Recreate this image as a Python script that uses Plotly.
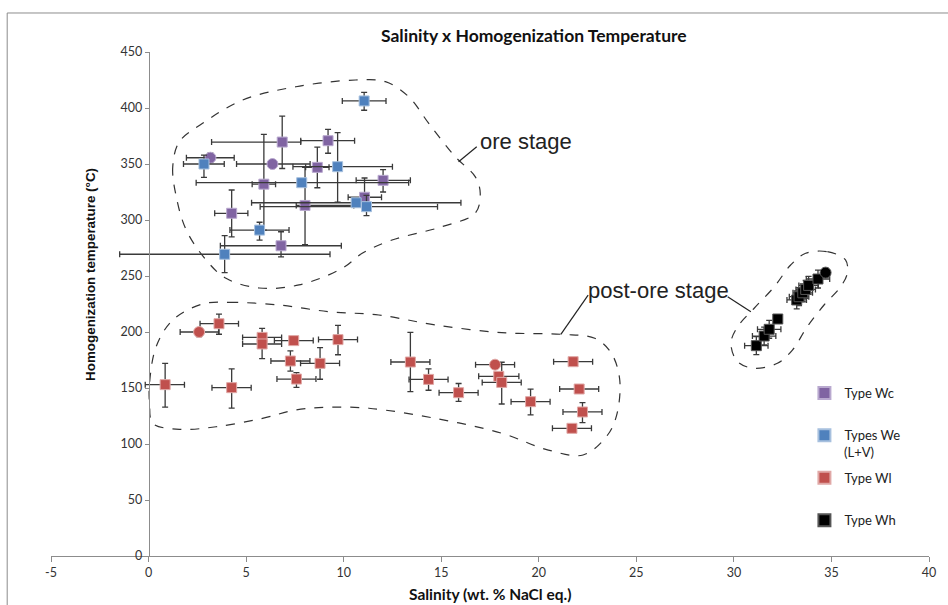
import plotly.graph_objects as go

# ---------------- data (salinity wt.% NaCl eq., homogenization T in °C) ----------------
wc_sal = [6.85, 9.20, 8.65, 5.91, 12.02, 11.07, 8.02, 4.26, 6.79, 3.17, 6.35]
wc_temp = [369.6, 370.8, 347.0, 332.0, 335.4, 320.3, 313.0, 306.0, 277.0, 355.6, 350.0]
wc_xm = [3.62, 1.40, 0.60, 0.60, 1.38, 0.84, 0.45, 0.87, 3.11, 1.23, 1.84]
wc_xp = [0.95, 1.36, 0.60, 0.60, 1.40, 0.87, 2.50, 0.83, 3.09, 1.22, 1.93]
wc_ym = [23.6, 11.2, 18.2, 41.0, 10.4, 0.0, 35.0, 21.0, 10.0, 4.0, 3.0]
wc_yp = [23.2, 10.2, 18.0, 44.5, 9.6, 17.2, 34.0, 20.8, 12.5, 4.0, 3.0]
wc_sym = ["square"] * 9 + ["circle", "circle"]

we_sal = [11.05, 2.84, 9.69, 7.85, 10.64, 11.17, 5.69, 3.90]
we_temp = [406.3, 350.0, 347.6, 333.3, 315.4, 311.9, 291.0, 269.4]
we_xm = [1.12, 1.05, 2.29, 5.41, 5.36, 5.45, 1.52, 5.38]
we_xp = [1.12, 1.04, 2.81, 5.48, 5.37, 3.64, 1.51, 5.40]
we_ym = [8.3, 12.0, 31.6, 0.0, 0.0, 8.0, 9.0, 16.4]
we_yp = [7.7, 8.0, 30.4, 0.0, 0.0, 10.0, 7.0, 16.6]
we_sym = ["square"] * 8

wl_sal = [0.85, 2.59, 3.61, 4.26, 5.82, 5.82, 7.44, 7.27, 7.58, 8.79, 9.71,
          13.42, 14.35, 15.89, 17.76, 17.95, 18.10, 19.58, 21.76, 22.07, 22.24, 21.70]
wl_temp = [153.0, 200.0, 207.4, 150.3, 195.2, 189.3, 192.3, 174.1, 158.0, 172.0, 193.2,
           173.2, 157.7, 145.8, 170.8, 160.4, 155.0, 137.8, 173.5, 149.1, 128.6, 114.0]
wl_xm = [1.02, 0.97, 0.97, 1.01, 1.00, 1.00, 0.99, 1.00, 1.00, 1.00, 1.00,
         1.00, 1.00, 1.00, 1.00, 1.03, 1.00, 1.00, 1.00, 1.00, 1.00, 1.00]
wl_xp = [0.99, 1.00, 1.00, 1.00, 1.00, 1.00, 1.00, 1.00, 1.00, 1.00, 1.00,
         1.00, 1.00, 1.00, 1.00, 1.03, 1.00, 1.00, 1.00, 1.00, 1.00, 1.00]
wl_ym = [20.0, 4.0, 9.4, 18.3, 0.0, 13.0, 0.0, 9.0, 7.4, 14.2, 13.5,
         26.5, 9.7, 7.8, 3.0, 0.0, 19.3, 11.8, 0.0, 0.0, 9.6, 0.0]
wl_yp = [19.0, 3.0, 8.6, 16.7, 8.0, 0.0, 0.0, 9.0, 5.7, 14.0, 12.8,
         26.5, 9.3, 8.2, 3.0, 0.0, 18.0, 11.2, 0.0, 0.0, 8.4, 0.0]
wl_sym = ["square", "circle"] + ["square"] * 12 + ["circle"] + ["square"] * 7

wh_sal = [31.15, 31.55, 31.81, 32.25, 33.22, 33.34, 33.53, 33.68, 33.83, 34.31, 34.70]
wh_temp = [187.8, 196.4, 202.4, 211.6, 228.6, 231.5, 235.0, 238.0, 241.6, 247.3, 253.0]
wh_xm = [0.60, 0.60, 0.60, 0.0, 0.50, 0.50, 0.50, 0.50, 0.50, 0.60, 0.0]
wh_xp = [0.60, 0.60, 0.60, 0.0, 0.50, 0.50, 0.50, 0.50, 0.50, 0.60, 0.0]
wh_ym = [8.0, 8.0, 8.0, 0.0, 8.0, 8.0, 8.0, 8.0, 8.0, 8.0, 4.0]
wh_yp = [8.0, 8.0, 8.0, 0.0, 8.0, 8.0, 8.0, 8.0, 8.0, 8.0, 4.0]
wh_sym = ["square"] * 10 + ["circle"]

# dashed field outlines (salinity, temperature)
ore_s = [1.58, 1.24, 1.42, 1.93, 2.95, 3.97, 5.67, 7.71, 9.93, 10.95, 12.48, 15.03, 16.74, 17.0,
         16.74, 15.72, 14.36, 13.33, 12.14, 10.61, 7.55, 4.82, 2.77, 1.58]
ore_t = [369.9, 347.6, 320.8, 291.1, 264.3, 247.9, 239.3, 242.0, 256.9, 270.3, 282.1, 294.0, 306.0, 323.8,
         338.7, 356.5, 386.3, 410.1, 423.5, 425.0, 419.0, 407.1, 386.3, 369.9]
post_s = [2.77, 4.14, 6.69, 9.25, 11.8, 14.7, 18.1, 21.17, 22.87, 23.72, 24.15, 23.97, 23.46, 22.27,
          20.49, 18.1, 14.7, 11.29, 9.25, 7.55, 5.84, 3.46, 1.58, 0.22, 0.05, 0.05, 0.39, 1.24, 2.77]
post_t = [225.0, 226.5, 224.1, 218.1, 215.2, 206.3, 199.4, 197.9, 194.4, 181.0, 157.1, 124.4, 106.5, 90.2,
          94.6, 109.6, 122.9, 131.9, 132.8, 130.4, 122.9, 115.4, 113.1, 118.5, 136.3, 154.2, 186.9, 210.7, 225.0]
wh_out_s = [33.68, 34.79, 35.72, 35.81, 35.47, 34.62, 33.76, 33.0, 32.23, 31.04, 30.19, 29.85, 30.19,
            31.04, 32.07, 32.91, 33.68]
wh_out_t = [270.3, 271.7, 264.3, 252.4, 240.4, 224.1, 204.7, 183.9, 172.1, 167.6, 173.5, 189.9, 204.7,
            221.2, 240.4, 259.8, 270.3]

x_ticks = [-5, 0, 5, 10, 15, 20, 25, 30, 35, 40]
y_ticks = [0, 50, 100, 150, 200, 250, 300, 350, 400, 450]

FONT = "Lato, 'Open Sans', sans-serif"
ARIAL = "'Liberation Sans', Arial, sans-serif"
ERR_COL = "#3a3a3a"

fig = go.Figure()

for xs, ys in [(ore_s, ore_t), (post_s, post_t), (wh_out_s, wh_out_t)]:
    fig.add_trace(go.Scatter(x=xs, y=ys, mode="lines", showlegend=False, hoverinfo="skip",
                             line=dict(color="#333333", width=1.2, dash="dash", shape="spline",
                                       smoothing=1.0)))


def series(name, sal, temp, xm, xp, ym, yp, sym, color, edge, group):
    sizes = [11 if s == "circle" else 10 for s in sym]
    fig.add_trace(go.Scatter(
        x=sal, y=temp, mode="markers", name=name, legendgroup=group,
        marker=dict(symbol=sym, size=sizes, color=color, opacity=1,
                    line=dict(color=edge, width=1)),
        error_x=dict(type="data", symmetric=False, array=xp, arrayminus=xm,
                     color=ERR_COL, thickness=1.3, width=3),
        error_y=dict(type="data", symmetric=False, array=yp, arrayminus=ym,
                     color=ERR_COL, thickness=1.3, width=3),
    ))


series("Type Wc", wc_sal, wc_temp, wc_xm, wc_xp, wc_ym, wc_yp, wc_sym, "#8064A2", "#B9A9CF", "a")
series("Types We", we_sal, we_temp, we_xm, we_xp, we_ym, we_yp, we_sym, "#4F81BD", "#A7C0DE", "b")
series("Type Wl", wl_sal, wl_temp, wl_xm, wl_xp, wl_ym, wl_yp, wl_sym, "#C0504D", "#E0A8A6", "c")
series("Type Wh", wh_sal, wh_temp, wh_xm, wh_xp, wh_ym, wh_yp, wh_sym, "#000000", "#555555", "d")

# leader lines
for (x0, y0, x1, y1) in [(15.89, 352.0, 16.82, 365.4), (21.13, 197.9, 22.53, 233.0),
                         (29.68, 231.5, 30.87, 218.1)]:
    fig.add_shape(type="line", x0=x0, y0=y0, x1=x1, y1=y1, xref="x", yref="y",
                  line=dict(color="#222222", width=1.2))

# outer chart frame
fig.add_shape(type="rect", xref="paper", yref="paper", x0=-0.0499, y0=-0.3, x1=1.1, y1=1.0774,
              line=dict(color="#8c8c8c", width=1), layer="below")

ann = [
    dict(text="ore stage", x=16.91, y=370.5, xref="x", yref="y", xanchor="left", yanchor="middle",
         showarrow=False, font=dict(family=ARIAL, size=22, color="#222222")),
    dict(text="post-ore stage", x=22.43, y=237.5, xref="x", yref="y", xanchor="left", yanchor="middle",
         showarrow=False, font=dict(family=ARIAL, size=22, color="#222222")),
    dict(text="<b>Salinity x Homogenization Temperature</b>", x=0.5505, y=1.0337, xref="paper",
         yref="paper", xanchor="center", yanchor="middle", showarrow=False,
         font=dict(family=FONT, size=17.5, color="#111111")),
    dict(text="<b>Homogenization temperature (°C)</b>", x=0.0443, y=0.5595, xref="paper", yref="paper",
         xanchor="center", yanchor="middle", textangle=-90, showarrow=False,
         font=dict(family=ARIAL, size=13.4, color="#111111")),
    dict(text="<b>Salinity (wt. % NaCl eq.)</b>", x=0.5, y=(556 - 594) / 504, xref="paper", yref="paper",
         xanchor="center", yanchor="middle", showarrow=False,
         font=dict(family=FONT, size=15.5, color="#111111")),
    dict(text="(L+V)", x=(845 - 51) / 881, y=(556 - 452) / 504, xref="paper", yref="paper",
         xanchor="left", yanchor="middle", showarrow=False,
         font=dict(family=FONT, size=13, color="#222222")),
]

fig.update_layout(
    width=948, height=605,
    margin=dict(l=51, r=16, t=52, b=49),
    paper_bgcolor="white", plot_bgcolor="white",
    font=dict(family=FONT, size=12, color="#333333"),
    annotations=ann,
    showlegend=True,
    legend=dict(x=(807 - 51) / 881, y=(556 - 378) / 504, xanchor="left", yanchor="top",
                bgcolor="rgba(0,0,0,0)", font=dict(family=FONT, size=13, color="#222222"),
                tracegroupgap=22.5, itemsizing="constant", valign="top"),
    xaxis=dict(range=[-5, 40], tickvals=x_ticks, ticktext=[str(v) for v in x_ticks],
               showgrid=False, zeroline=False, showline=True, linecolor="#8c8c8c", linewidth=1,
               ticks="outside", ticklen=5, tickcolor="#8c8c8c", tickfont=dict(size=12.5),
               anchor="y"),
    yaxis=dict(range=[0, 450], tickvals=y_ticks, ticktext=[str(v) for v in y_ticks],
               showgrid=False, zeroline=False, showline=True, linecolor="#8c8c8c", linewidth=1,
               ticks="outside", ticklen=4, tickcolor="#8c8c8c", tickfont=dict(size=12.5),
               anchor="free", position=98 / 881),
)

fig.write_html("out.html")
